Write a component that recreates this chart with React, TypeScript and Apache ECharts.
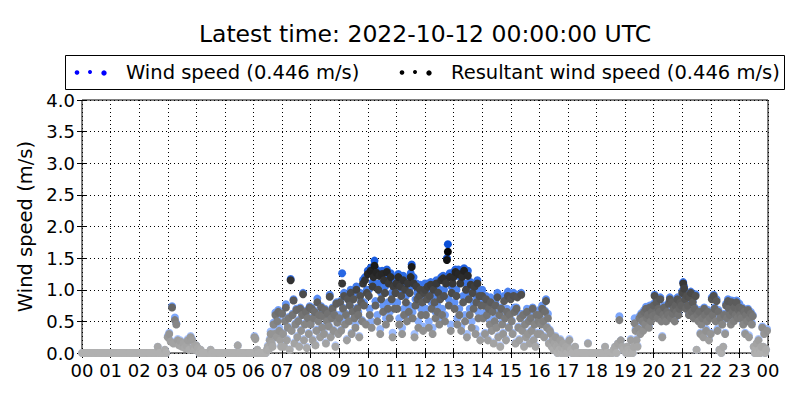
import React, { useEffect, useRef } from "react";
import * as echarts from "echarts";

// ---- data: one row per hour 00..23, samples evenly spaced within the hour ----
const hourLabels = ["00","01","02","03","04","05","06","07","08","09","10","11","12","13","14","15","16","17","18","19","20","21","22","23","00"];
const yTickLabels = ["0.0","0.5","1.0","1.5","2.0","2.5","3.0","3.5","4.0"];

// Resultant wind speed (m/s)
const resultantSpeed: number[][] = [
  [0,0,0,0,0,0,0,0,0,0,0,0,0,0,0,0,0,0,0,0],
  [0,0,0,0,0,0,0,0,0,0,0,0,0,0,0,0,0,0,0,0],
  [0,0,0,0,0,0,0,0,0,0,0,0,0,0.1,0,0,0,0,0.05,0],
  [0.25,0.3,0.18,0.72,0.15,0.52,0.45,0.2,0.12,0.18,0.1,0.15,0.08,0.12,0.2,0.05,0.25,0.2,0.1,0.05],
  [0.12,0.08,0,0.05,0,0,0,0,0,0,0.05,0,0,0,0,0,0,0,0,0],
  [0,0,0,0,0,0,0,0,0,0.12,0,0,0,0,0,0,0,0,0,0],
  [0,0.25,0.22,0,0.05,0,0,0,0,0,0,0,0,0,0.05,0.1,0.05,0.2,0.3,0.15,0.1,0.45,0.3,0.6,0.25,0.5,0.65,0.35,0.2,0.1],
  [0.62,0.3,0.1,0.5,0.72,0.2,0.4,0.55,0.05,1.15,0.35,0.6,0.83,0.15,0.45,0.68,0.25,0.5,0.1,0.7,0.35,0.6,0.93,0.2,0.45,0.65,0.08,0.55,0.3,0.72],
  [0.45,0.7,0.2,0.55,0.65,0.12,0.35,0.8,0.5,0.6,0.25,0.72,0.4,0.58,0.3,0.68,0.15,0.5,0.62,0.42,0.89,0.25,0.55,0.7,0.35,0.6,0.1,0.78,0.48,0.3],
  [0.55,0.8,0.35,1.1,0.7,0.9,0.45,0.6,0.2,0.85,0.5,0.75,0.95,0.3,0.65,0.85,0.55,0.4,1.0,0.7,0.6,0.25,0.9,0.8,0.5,1.1,0.75,1.15,0.45,0.95],
  [1.25,0.9,0.6,1.3,0.4,1.05,1.2,1.38,0.75,1.27,0.5,1.0,1.22,0.3,0.85,1.25,0.65,1.15,0.95,0.45,1.28,0.7,1.1,0.55,1.2,0.85,0.25,1.05,0.7,0.95],
  [1.1,0.7,1.2,0.45,1.05,0.9,0.3,1.15,0.6,1.0,0.8,0.5,1.1,0.65,0.95,1.2,1.36,0.55,1.1,0.25,0.75,1.05,0.85,0.4,0.9,1.0,0.6,0.8,0.35,0.95],
  [1.0,0.6,0.85,1.05,0.4,0.9,1.08,0.7,0.3,1.0,0.8,0.55,1.1,0.65,0.95,0.45,0.85,1.15,0.6,1.18,0.9,0.5,1.1,1.47,1.6,0.75,1.2,0.35,0.95,1.1],
  [1.2,0.7,1.28,0.9,0.45,1.25,0.6,1.1,0.35,1.2,0.8,1.3,0.5,1.0,0.25,1.22,0.85,0.6,1.08,0.4,0.95,0.7,1.05,0.3,0.8,1.1,0.55,0.9,0.2,0.75],
  [0.9,0.55,0.75,0.3,0.85,0.6,0.2,0.7,0.45,0.8,0.35,0.65,0.15,0.5,0.75,0.4,0.88,0.25,0.6,0.1,0.7,0.45,0.3,0.82,0.55,0.2,0.65,0.9,0.4,0.6],
  [0.85,0.5,0.3,0.9,0.65,0.15,0.7,0.88,0.4,0.2,0.55,0.92,0.35,0.6,0.1,0.45,0.25,0.65,0.3,0.5,0.15,0.55,0.35,0.7,0.2,0.45,0.1,0.6,0.3,0.5],
  [0.6,0.3,0.45,0.7,0.5,0.25,0.65,0.82,0.4,0.55,0.15,0.35,0.3,0.1,0.2,0.05,0.15,0.25,0.1,0,0.12,0.05,0.2,0,0.08,0.15,0,0.05,0.1,0],
  [0.1,0.2,0.05,0,0,0.1,0,0,0,0,0,0,0,0,0.15,0,0,0,0,0],
  [0,0,0,0,0,0,0.1,0,0,0,0,0,0.05,0.1,0,0.15,0.52,0.2,0.1,0.05],
  [0.05,0,0.1,0.05,0,0,0.2,0.05,0,0.1,0.47,0.35,0.2,0.1,0.38,0.55,0.3,0.6,0.5,0.35,0.65,0.45,0.7,0.55,0.6,0.4,0.72,0.5,0.65,0.58],
  [0.75,0.9,0.6,0.8,0.55,0.7,0.65,0.85,0.5,0.25,0.6,0.72,0.55,0.5,0.65,0.6,0.78,0.85,0.55,0.8,0.62,0.7,0.5,0.75,0.65,0.85,0.6,0.7,0.8,0.75],
  [0.95,1.1,1.02,0.85,0.7,0.9,0.75,0.6,0.88,0.95,0.65,0.8,0.55,0.7,0.9,0.05,0.6,0.5,0.65,0.3,0.45,0.55,0.25,0.7,0.6,0.35,0.5,0.65,0.2,0.55],
  [0.3,0.85,0.6,0.9,0.7,0.5,0.82,0.35,0.65,0.05,0.55,0,0.45,0.1,0.6,0.3,0.75,0.55,0.82,0.7,0.6,0.45,0.8,0.65,0.5,0.72,0.6,0.8,0.55,0.68],
  [0.72,0.6,0.55,0.7,0.45,0.65,0.3,0.6,0.5,0.68,0.25,0.55,0.62,0.45,0.58,0.1,0,0.05,0.15,0,0.2,0.05,0,0.1,0.4,0.1,0.3,0,0.05,0.35],
];

// Wind speed (m/s)
const windSpeed: number[][] = [
  [0,0,0,0,0,0,0,0,0,0,0,0,0,0,0,0,0,0,0,0],
  [0,0,0,0,0,0,0,0,0,0,0,0,0,0,0,0,0,0,0,0],
  [0,0,0,0,0,0,0,0,0,0,0,0,0,0.1,0,0,0,0,0.05,0],
  [0.27,0.32,0.2,0.74,0.17,0.56,0.47,0.22,0.14,0.2,0.12,0.17,0.1,0.14,0.22,0.06,0.27,0.22,0.12,0.06],
  [0.12,0.08,0,0.05,0,0,0,0,0,0,0.05,0,0,0,0,0,0,0,0,0],
  [0,0,0,0,0,0,0,0,0,0.12,0,0,0,0,0,0,0,0,0,0],
  [0,0.27,0.24,0,0.05,0,0,0,0,0,0,0,0,0,0.05,0.12,0.06,0.22,0.34,0.18,0.12,0.48,0.34,0.64,0.28,0.55,0.68,0.4,0.22,0.12],
  [0.64,0.32,0.12,0.52,0.77,0.22,0.42,0.57,0.06,1.17,0.37,0.62,0.85,0.17,0.47,0.7,0.27,0.52,0.12,0.72,0.37,0.62,0.95,0.22,0.47,0.67,0.1,0.57,0.32,0.74],
  [0.47,0.72,0.22,0.57,0.67,0.14,0.37,0.86,0.52,0.62,0.27,0.74,0.42,0.6,0.32,0.7,0.17,0.52,0.64,0.44,0.92,0.27,0.57,0.72,0.37,0.62,0.12,0.8,0.5,0.32],
  [0.6,0.82,0.37,1.26,0.72,0.95,0.5,0.62,0.22,0.9,0.52,0.8,1.0,0.32,0.7,0.9,0.57,0.45,1.05,0.72,0.65,0.27,0.95,0.82,0.52,1.16,0.8,1.2,0.47,1.0],
  [1.3,1.0,0.7,1.35,0.5,1.12,1.28,1.46,0.82,1.32,0.6,1.1,1.28,0.38,0.95,1.3,0.75,1.2,1.05,0.55,1.32,0.8,1.18,0.65,1.26,0.95,0.32,1.12,0.8,1.02],
  [1.2,0.8,1.25,0.55,1.15,1.0,0.4,1.22,0.7,1.1,0.9,0.6,1.18,0.75,1.02,1.26,1.4,0.65,1.2,0.3,0.85,1.1,0.95,0.5,1.0,1.08,0.7,0.9,0.42,1.02],
  [1.1,0.7,0.95,1.1,0.5,1.0,1.12,0.8,0.4,1.05,0.9,0.65,1.15,0.75,1.02,0.55,0.95,1.2,0.7,1.22,1.0,0.6,1.18,1.5,1.72,0.85,1.26,0.45,1.05,1.18],
  [1.28,0.8,1.32,1.0,0.55,1.32,0.7,1.2,0.42,1.28,0.9,1.34,0.6,1.1,0.3,1.3,0.95,0.7,1.12,0.5,1.02,0.8,1.1,0.38,0.9,1.15,0.65,0.98,0.26,0.85],
  [1.0,0.62,0.85,0.32,0.9,0.68,0.22,0.72,0.52,0.88,0.37,0.72,0.17,0.55,0.8,0.42,0.95,0.27,0.65,0.12,0.72,0.5,0.32,0.9,0.57,0.22,0.7,0.97,0.42,0.65],
  [0.92,0.52,0.32,0.95,0.72,0.17,0.72,0.92,0.42,0.22,0.62,0.95,0.37,0.62,0.12,0.47,0.27,0.7,0.32,0.52,0.17,0.6,0.37,0.72,0.22,0.47,0.12,0.62,0.32,0.52],
  [0.68,0.32,0.47,0.75,0.52,0.27,0.67,0.85,0.42,0.62,0.17,0.37,0.32,0.12,0.22,0.06,0.17,0.27,0.12,0,0.14,0.06,0.22,0,0.1,0.17,0,0.06,0.12,0],
  [0.12,0.22,0.06,0,0,0.1,0,0,0,0,0,0,0,0,0.16,0,0,0,0,0],
  [0,0,0,0,0,0,0.1,0,0,0,0,0,0.05,0.1,0,0.15,0.58,0.2,0.1,0.05],
  [0.05,0,0.1,0.05,0,0,0.22,0.05,0,0.1,0.55,0.38,0.22,0.12,0.42,0.58,0.34,0.63,0.53,0.38,0.68,0.48,0.73,0.58,0.63,0.43,0.75,0.53,0.68,0.6],
  [0.78,0.92,0.62,0.83,0.58,0.72,0.68,0.88,0.52,0.27,0.62,0.75,0.58,0.52,0.68,0.62,0.8,0.88,0.58,0.83,0.65,0.73,0.53,0.78,0.68,0.88,0.62,0.72,0.82,0.78],
  [0.98,1.12,1.05,0.88,0.72,0.92,0.78,0.62,0.9,0.97,0.68,0.82,0.58,0.72,0.93,0.05,0.62,0.52,0.68,0.32,0.48,0.58,0.27,0.72,0.62,0.38,0.52,0.68,0.22,0.58],
  [0.32,0.88,0.62,0.92,0.72,0.52,0.85,0.38,0.68,0.05,0.58,0,0.48,0.1,0.62,0.32,0.78,0.58,0.85,0.72,0.62,0.48,0.83,0.68,0.52,0.75,0.62,0.83,0.58,0.7],
  [0.78,0.62,0.58,0.72,0.48,0.68,0.32,0.62,0.52,0.7,0.28,0.58,0.65,0.48,0.6,0.1,0,0.05,0.15,0,0.22,0.05,0,0.1,0.42,0.1,0.32,0,0.05,0.38],
];

const latestWind = 0.446;
const latestResultant = 0.446;

function toPoints(rows: number[][]): number[][] {
  const out: number[][] = [];
  rows.forEach((row, h) => {
    row.forEach((v, i) => {
      out.push([h + i / row.length, v]);
    });
  });
  return out;
}

const FONT = "DejaVu Sans";

export default function App() {
  const ref = useRef<HTMLDivElement>(null);
  useEffect(() => {
    if (!ref.current) return;
    const chart = echarts.init(ref.current, undefined, { renderer: "svg" });
    const axisCommon = {
      type: "value" as const,
      axisLine: { show: false },
      axisTick: { show: true, inside: true, length: 5, lineStyle: { color: "#000", width: 1 } },
    };
    chart.setOption({
      animation: false,
      backgroundColor: "#fff",
      grid: { left: 82, right: 32, top: 100, bottom: 47, show: true, borderColor: "#000", borderWidth: 1, backgroundColor: "transparent" },
      xAxis: [
        {
          ...axisCommon,
          min: 0, max: 24, interval: 1,
          axisLabel: {
            fontSize: 18, color: "#000", fontFamily: FONT, margin: 8,
            formatter: (v: number) => hourLabels[Math.round(v)] ?? "",
          },
          splitLine: { show: true, lineStyle: { color: "#000", type: [1, 3], width: 1 } },
        },
        {
          ...axisCommon, position: "top",
          min: 0, max: 24, interval: 1,
          axisLabel: { show: false }, splitLine: { show: false },
        },
      ],
      yAxis: [
        {
          ...axisCommon,
          min: 0, max: 4, interval: 0.5,
          name: "Wind speed (m/s)", nameLocation: "middle", nameGap: 45,
          nameTextStyle: { fontSize: 19.5, color: "#000", fontFamily: FONT },
          axisLabel: {
            fontSize: 18, color: "#000", fontFamily: FONT, margin: 7,
            formatter: (v: number) => yTickLabels[Math.round(v * 2)] ?? "",
          },
          splitLine: { show: true, lineStyle: { color: "#000", type: [1, 3], width: 1 } },
        },
        {
          ...axisCommon, position: "right",
          min: 0, max: 4, interval: 0.5,
          axisLabel: { show: false }, splitLine: { show: false },
        },
      ],
      visualMap: [
        {
          type: "continuous", show: false, seriesIndex: 0, dimension: 1, min: 0, max: 1.6,
          inRange: { color: ["#c4d6ff", "#93b6ff", "#5f92f6", "#2d6be6", "#0a4fd8"] },
        },
        {
          type: "continuous", show: false, seriesIndex: 1, dimension: 1, min: 0, max: 1.6,
          inRange: { color: ["#b0b0b0", "#8c8c8c", "#5c5c5c", "#2c2c2c", "#050505"] },
        },
      ],
      series: [
        {
          name: "Wind speed", type: "scatter", xAxisIndex: 0, yAxisIndex: 0,
          symbol: "circle", symbolSize: 8, clip: true,
          itemStyle: { color: "#0000ff", opacity: 1 },
          data: toPoints(windSpeed),
        },
        {
          name: "Resultant wind speed", type: "scatter", xAxisIndex: 0, yAxisIndex: 0,
          symbol: "circle", symbolSize: 8, clip: true,
          itemStyle: { color: "#000", opacity: 1 },
          data: toPoints(resultantSpeed),
        },
      ],
      graphic: [
        {
          type: "text", x: 425, y: 34,
          style: {
            text: "Latest time: 2022-10-12 00:00:00 UTC", fontSize: 23.5, fontFamily: FONT,
            fill: "#000", textAlign: "center", textVerticalAlign: "middle",
          },
        },
        {
          type: "rect", shape: { x: 65.5, y: 55.5, width: 719, height: 34 },
          style: { fill: "#fff", stroke: "#000", lineWidth: 1 },
        },
        { type: "circle", shape: { cx: 77, cy: 72.5, r: 2.3 }, style: { fill: "#0000ff" } },
        { type: "circle", shape: { cx: 90, cy: 72, r: 2.0 }, style: { fill: "#0000ff" } },
        { type: "circle", shape: { cx: 104, cy: 73, r: 2.7 }, style: { fill: "#0000ff" } },
        {
          type: "text", x: 126, y: 72,
          style: {
            text: `Wind speed (${latestWind.toFixed(3)} m/s)`, fontSize: 19.5, fontFamily: FONT,
            fill: "#000", textAlign: "left", textVerticalAlign: "middle",
          },
        },
        { type: "circle", shape: { cx: 402, cy: 72.5, r: 2.3 }, style: { fill: "#000" } },
        { type: "circle", shape: { cx: 415, cy: 72, r: 2.0 }, style: { fill: "#000" } },
        { type: "circle", shape: { cx: 429, cy: 73, r: 2.7 }, style: { fill: "#000" } },
        {
          type: "text", x: 451, y: 72,
          style: {
            text: `Resultant wind speed (${latestResultant.toFixed(3)} m/s)`, fontSize: 19.5, fontFamily: FONT,
            fill: "#000", textAlign: "left", textVerticalAlign: "middle",
          },
        },
      ],
    });
    return () => chart.dispose();
  }, []);
  return <div ref={ref} style={{ width: 800, height: 400, position: "absolute", left: 0, top: 0 }} />;
}
